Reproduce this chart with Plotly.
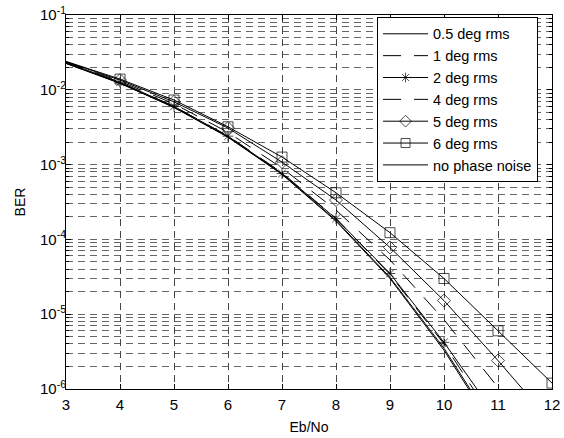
import plotly.graph_objects as go

# ---- data ----
ebno = [3, 4, 5, 6, 7, 8, 9, 10, 11, 12]

ber_05deg = [0.0226, 0.0123, 0.00585, 0.00235, 7.5e-4, 1.8e-4, 3.1e-5, 3.5e-6, 2.6e-7, 1.2e-8]
ber_1deg = [0.0228, 0.0125, 0.0060, 0.00242, 7.8e-4, 1.9e-4, 3.4e-5, 4.0e-6, 3.1e-7, 1.6e-8]
ber_2deg = [0.0232, 0.0126, 0.0060, 0.0024, 7.6e-4, 1.9e-4, 3.5e-5, 4.2e-6, 4.0e-7, 2.5e-8]
ber_4deg = [0.0235, 0.0130, 0.0065, 0.0027, 9.0e-4, 2.47e-4, 5.3e-5, 8.45e-6, 1.05e-6, 1.0e-7]
ber_5deg = [0.0238, 0.0135, 0.0069, 0.00308, 1.08e-3, 3.36e-4, 7.8e-5, 1.52e-5, 2.4e-6, 3.5e-7]
ber_6deg = [0.0240, 0.0139, 0.0073, 0.0032, 1.26e-3, 4.2e-4, 1.23e-4, 3.0e-5, 6.0e-6, 1.2e-6]
ber_none = [0.0225, 0.0122, 0.0058, 0.00232, 7.4e-4, 1.75e-4, 3.0e-5, 3.3e-6, 2.4e-7, 1.0e-8]

series_names = ["0.5 deg rms", "1 deg rms", "2 deg rms", "4 deg rms",
                "5 deg rms", "6 deg rms", "no phase noise"]

x_ticks = [3, 4, 5, 6, 7, 8, 9, 10, 11, 12]
y_tickvals = [1e-6, 1e-5, 1e-4, 1e-3, 1e-2, 1e-1]
y_ticktext = ["10<sup>-6</sup>", "10<sup>-5</sup>", "10<sup>-4</sup>",
              "10<sup>-3</sup>", "10<sup>-2</sup>", "10<sup>-1</sup>"]
y_minor = [m * 10.0 ** e for e in range(-6, -1) for m in range(2, 10)]

# ---- styling ----
series = [ber_05deg, ber_1deg, ber_2deg, ber_4deg, ber_5deg, ber_6deg, ber_none]
dashes = ["solid", "18px,13px", "solid", "18px,13px", "solid", "solid", "solid"]
symbols = [None, None, "asterisk-open", None, "diamond-open", "square-open", None]
msizes = [0, 0, 9, 0, 10, 10, 0]

font = "Liberation Sans, Arial, Helvetica, sans-serif"

fig = go.Figure()
for i, (name, yv, dash, sym, ms) in enumerate(zip(series_names, series, dashes, symbols, msizes)):
    common = dict(x=ebno, y=yv, name=name, legendgroup="g%d" % i,
                  line=dict(color="black", width=1, dash=dash))
    if sym is None:
        fig.add_trace(go.Scatter(mode="lines", **common))
    else:
        sizes = [0] + [ms] * (len(ebno) - 1)
        fig.add_trace(go.Scatter(
            mode="lines+markers",
            marker=dict(symbol=sym, size=sizes, color="black",
                        line=dict(color="black", width=1)),
            **common))

fig.update_layout(
    width=564, height=438,
    margin=dict(l=66, r=12, t=15, b=49),
    paper_bgcolor="white", plot_bgcolor="white",
    font=dict(family=font, size=13, color="black"),
    showlegend=True,
    legend=dict(
        x=0.64, y=0.995, xanchor="left", yanchor="top",
        bgcolor="white", bordercolor="black", borderwidth=1,
        font=dict(family=font, size=14.5, color="black"),
        itemwidth=45, traceorder="grouped", tracegroupgap=0,
    ),
)

fig.update_xaxes(
    range=[3, 12], tickmode="array", tickvals=x_ticks,
    ticks="inside", ticklen=5, tickcolor="black",
    showline=True, linecolor="black", linewidth=1, mirror="ticks",
    showgrid=True, gridcolor="#444", gridwidth=1, griddash="7px,5px",
    zeroline=False, automargin=False, ticklabelstandoff=2,
    ticklabeloverflow="allow",
    title=dict(text="Eb/No", font=dict(size=14), standoff=10),
    tickfont=dict(size=15),
)

fig.update_yaxes(
    type="log", range=[-6, -1], tickmode="array",
    tickvals=y_tickvals, ticktext=y_ticktext,
    ticks="inside", ticklen=5, tickcolor="black",
    showline=True, linecolor="black", linewidth=1, mirror="ticks",
    showgrid=True, gridcolor="#666", gridwidth=1, griddash="7px,5px",
    minor=dict(tickmode="array", tickvals=y_minor, ticks="inside", ticklen=3,
               tickcolor="black", showgrid=True, gridcolor="#666",
               gridwidth=1, griddash="7px,5px"),
    zeroline=False, automargin=False, ticklabelstandoff=-4,
    ticklabeloverflow="allow",
    title=dict(text="BER", font=dict(size=14), standoff=11),
    tickfont=dict(size=15),
)

fig.write_html("out.html", config={"displayModeBar": False},
               post_script="document.body.style.margin='0';")
